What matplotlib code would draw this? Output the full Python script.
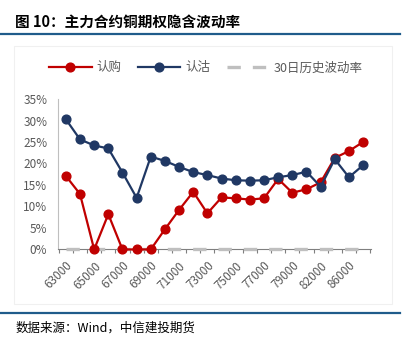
import numpy as np
import matplotlib
matplotlib.use("Agg")
from matplotlib import pyplot as plt
from matplotlib.lines import Line2D
from matplotlib.patches import Rectangle

plt.rcParams['font.family'] = ['Noto Sans CJK SC', 'DejaVu Sans']

strikes = ["63000", "64000", "65000", "66000", "67000", "68000", "69000", "70000",
           "71000", "72000", "73000", "74000", "75000", "76000", "77000", "78000",
           "79000", "80000", "82000", "84000", "86000", "88000"]
call_iv = [17.1, 12.9, 0.0, 8.2, 0.0, 0.0, 0.0, 4.7, 9.2, 13.4, 8.4, 12.1,
           11.9, 11.6, 11.9, 16.4, 13.2, 14.0, 15.6, 21.3, 22.9, 25.0]
put_iv = [30.3, 25.6, 24.2, 23.5, 17.9, 12.0, 21.6, 20.6, 19.2, 18.0, 17.3, 16.5,
          16.1, 16.0, 16.1, 16.8, 17.3, 18.1, 14.6, 21.0, 16.8, 19.6]
hist_vol = [0.0] * len(strikes)

RED = "#C00000"
BLUE = "#203864"
GRAY = "#BFBFBF"
TXT = "#595959"

fig = plt.figure(figsize=(4.08, 3.38), dpi=100)

# header / footer
fig.text(0.037, 0.935, "图 10：主力合约铜期权隐含波动率", fontsize=10.5,
         va="center", ha="left", color="black", weight="bold")
fig.add_artist(Line2D([0, 0.98], [0.899, 0.899], color="#1F5C8B", lw=1.6))
fig.add_artist(Line2D([0, 0.98], [0.073, 0.073], color="#1F5C8B", lw=1.6))
fig.text(0.037, 0.030, "数据来源：Wind，中信建投期货", fontsize=9,
         va="center", ha="left", style="italic", color="black")
fig.add_artist(Rectangle((0.034, 0.10), 0.927, 0.765, transform=fig.transFigure,
                         fill=False, ec="#F0F0F0", lw=0.8))

ax = fig.add_axes([0.143, 0.262, 0.766, 0.445])
x = np.arange(len(strikes))
y_call = np.array(call_iv) / 100
y_put = np.array(put_iv) / 100
y_hist = np.array(hist_vol) / 100

ax.plot(x, y_hist, color=GRAY, lw=2.4, ls=(0, (4.0, 3.6)), solid_capstyle="butt",
        label="30日历史波动率", zorder=2.6, clip_on=False)
ax.plot(x, y_call, color=RED, lw=1.6, marker="o", ms=6.3, label="认购", zorder=3,
        clip_on=False)
ax.plot(x, y_put, color=BLUE, lw=1.6, marker="o", ms=6.3, label="认沽", zorder=4,
        clip_on=False)

ax.set_xlim(-0.53, 21.55)
ax.set_ylim(0, 0.35)
ax.set_yticks(np.arange(0, 0.351, 0.05))
ax.set_yticklabels([f"{int(round(v * 100))}%" for v in np.arange(0, 0.351, 0.05)])
ax.set_xticks(x[::2])
ax.set_xticklabels(strikes[::2], rotation=45, ha="right", rotation_mode="anchor")
ax.set_xticks(np.arange(-0.5, 21.6, 1), minor=True)
ax.tick_params(axis="x", which="major", length=0, pad=7, labelsize=8.5, labelcolor=TXT)
ax.tick_params(axis="x", which="minor", length=3, color="#7F7F7F", width=0.8)
ax.tick_params(axis="y", length=0, pad=8, labelsize=8.5, labelcolor=TXT)
for s in ["top", "right"]:
    ax.spines[s].set_visible(False)
ax.spines["left"].set_color("#BFBFBF")
ax.spines["bottom"].set_color("#7F7F7F")

h, l = ax.get_legend_handles_labels()
order = [1, 2, 0]
leg = fig.legend([h[i] for i in order], [l[i] for i in order], loc="center",
                 bbox_to_anchor=(0.505, 0.799), ncol=3, frameon=False, fontsize=9,
                 handlelength=3.4, handletextpad=0.4, columnspacing=1.3)
for t in leg.get_texts():
    t.set_color(TXT)

fig.savefig("out.png", dpi=100)
